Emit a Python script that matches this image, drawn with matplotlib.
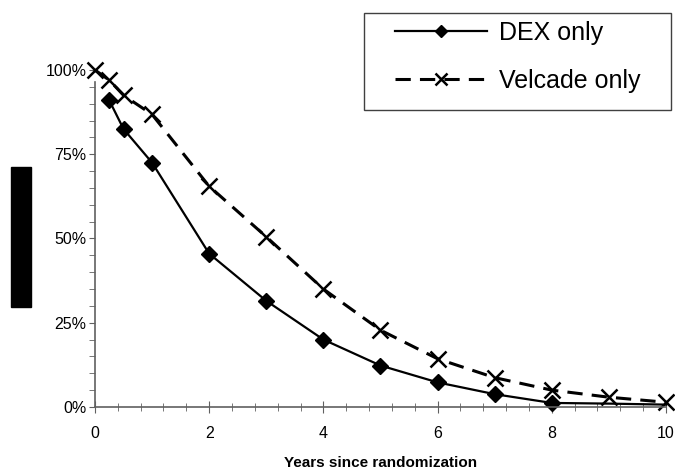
import matplotlib.pyplot as plt
from matplotlib.patches import Rectangle
from matplotlib.ticker import MultipleLocator, PercentFormatter

plt.rcParams['font.family'] = ['Liberation Sans', 'DejaVu Sans']

# survival fraction by years since randomization
dex_years = [0.25, 0.5, 1, 2, 3, 4, 5, 6, 7, 8, 9, 10]
dex_surv = [0.91, 0.825, 0.725, 0.455, 0.315, 0.20, 0.123, 0.073, 0.038, 0.012, 0.010, 0.007]

velcade_years = [0, 0.25, 0.5, 1, 2, 3, 4, 5, 6, 7, 8, 9, 10]
velcade_surv = [1.0, 0.97, 0.925, 0.868, 0.655, 0.505, 0.35, 0.228, 0.143, 0.087, 0.05, 0.029, 0.014]

x_ticks = [0, 2, 4, 6, 8, 10]
y_ticks = [0, 0.25, 0.5, 0.75, 1.0]

fig = plt.figure(figsize=(6.75, 4.75), dpi=100)
ax = fig.add_axes([0.1407, 0.1432, 0.846, 0.7094])

ax.plot(dex_years, dex_surv, color='black', lw=1.6, marker='D', ms=8.5,
        markevery=list(range(10)), clip_on=False, label='DEX only')
ax.plot(velcade_years, velcade_surv, color='black', lw=2.2, dashes=(5, 3),
        marker='x', ms=11, mew=1.8, clip_on=False, label='Velcade only')

ax.set_xlim(0, 10)
ax.set_ylim(0, 1.0)
ax.set_xticks(x_ticks)
ax.set_yticks(y_ticks)
ax.xaxis.set_minor_locator(MultipleLocator(0.4))
ax.yaxis.set_minor_locator(MultipleLocator(0.05))
ax.yaxis.set_major_formatter(PercentFormatter(1.0, decimals=0))

for side in ['top', 'right']:
    ax.spines[side].set_visible(False)
for side in ['left', 'bottom']:
    ax.spines[side].set_color('#606060')
    ax.spines[side].set_linewidth(1.2)
ax.spines['left'].set_bounds(0, 0.965)

ax.tick_params(axis='x', which='major', direction='inout', length=9, color='#606060', labelsize=11.5, pad=9)
ax.tick_params(axis='x', which='minor', direction='inout', length=6, color='#606060')
ax.tick_params(axis='y', which='both', direction='out', length=4, color='#606060', labelsize=11.5, pad=2)

ax.set_xlabel('Years since randomization', fontsize=11, fontweight='bold')
ax.xaxis.set_label_coords(0.5, -0.145)

# legend entries, with a plain box drawn around them
leg = ax.legend(loc='upper left', bbox_to_anchor=(395 / 675, 1 - 21 / 475),
                bbox_transform=fig.transFigure, fontsize=18, frameon=False,
                handlelength=3.7, markerscale=0.75, borderpad=0,
                labelspacing=0.95, handletextpad=0.45, borderaxespad=0)
ax.add_patch(Rectangle((364 / 675, 1 - 110 / 475), 307 / 675, 97 / 475,
                       transform=fig.transFigure, facecolor='white',
                       edgecolor='#404040', linewidth=1.0, zorder=4,
                       clip_on=False))

# black bar in the left margin
fig.patches.append(Rectangle((11 / 675, 1 - 307 / 475), 20 / 675, 140 / 475,
                             transform=fig.transFigure, color='black'))

fig.savefig('out.png', dpi=100)
